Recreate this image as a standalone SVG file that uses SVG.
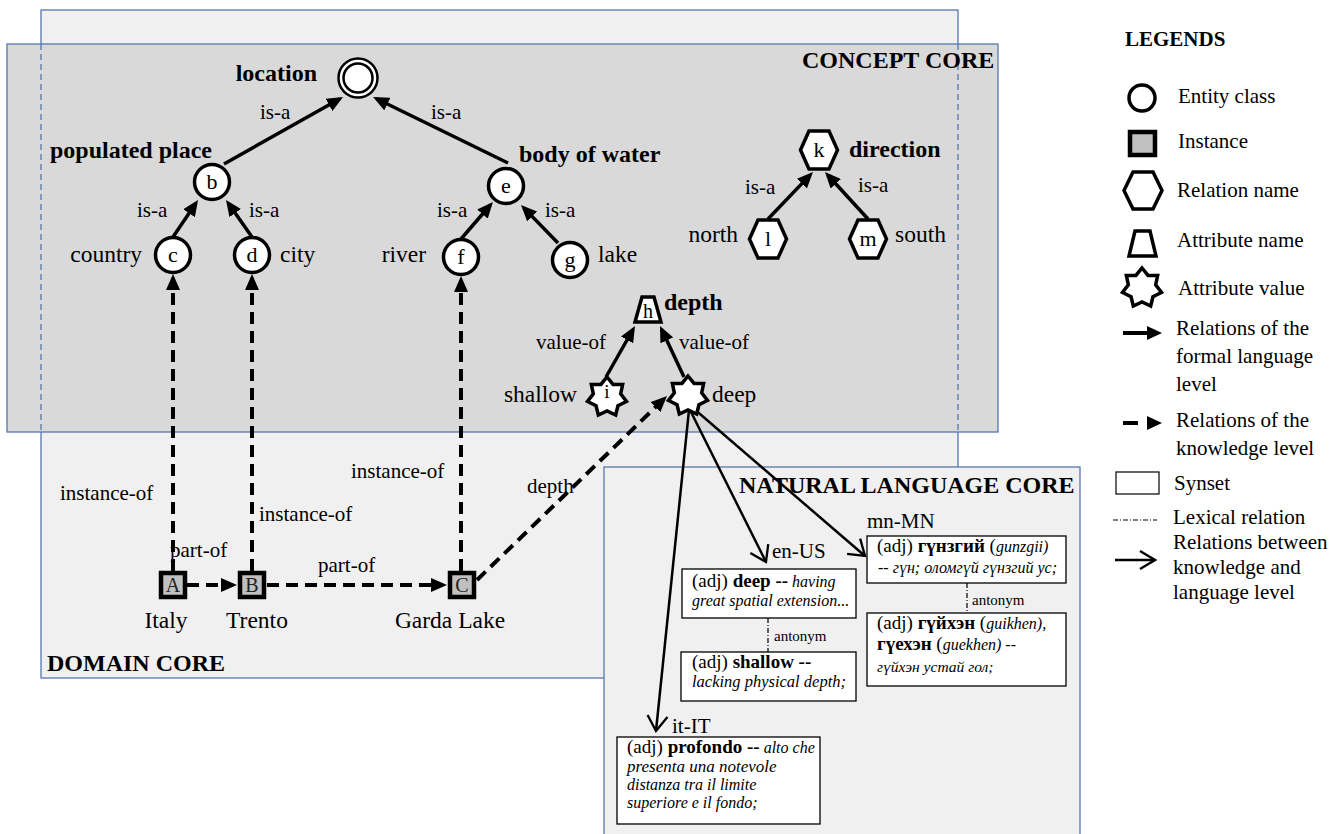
<svg xmlns="http://www.w3.org/2000/svg" width="1338" height="834" viewBox="0 0 1338 834">
<style>
text{font-family:"Liberation Serif","Times New Roman",serif;fill:#000}
.panel{stroke:#5677ad;stroke-width:1.3}
.pdash{stroke:#5677ad;stroke-width:1.3;stroke-dasharray:6 4;fill:none}
.b24{font-size:24px;font-weight:bold}
.lb{font-size:23.5px}
.el{font-size:21px}
.ln{font-size:22px;text-anchor:middle}
.ent{fill:#fff;stroke:#000;stroke-width:3.5}
.inst{fill:#c0c0c0;stroke:#000;stroke-width:4.5}
.solid{stroke:#000;stroke-width:3.5;fill:none;marker-end:url(#fa)}
.dash{stroke:#000;stroke-width:4;stroke-dasharray:12 7;fill:none;marker-end:url(#fa)}
.kl{stroke:#000;stroke-width:2.5;fill:none;marker-end:url(#va)}
.lex{stroke:#000;stroke-width:1.2;stroke-dasharray:5 2 1 2;fill:none}
.syn{fill:#fff;stroke:#000;stroke-width:1.3}
.st{font-size:19px}
.it{font-style:italic;font-size:16px}
.bd{font-weight:bold}
.lg{font-size:21px}
.ant{font-size:15px}
</style>
<defs>
<marker id="fa" markerUnits="userSpaceOnUse" markerWidth="16" markerHeight="14" viewBox="0 0 16 14" refX="12" refY="7" orient="auto"><path d="M0,0 L16,7 L0,14 z" fill="#000"/></marker>
<marker id="va" markerUnits="userSpaceOnUse" markerWidth="18" markerHeight="22" viewBox="0 0 18 22" refX="16" refY="11" orient="auto" overflow="visible"><path d="M1,1 L16,11 L1,21" fill="none" stroke="#000" stroke-width="2.3"/></marker>
</defs>

<g id="panels">
<rect class="panel" x="41" y="10" width="917" height="668" fill="#f0f0f0"/>
<rect class="panel" x="7" y="44" width="991" height="388" fill="#d9d9d9"/>
<line class="pdash" x1="41" y1="44" x2="41" y2="432"/>
<line class="pdash" x1="958" y1="44" x2="958" y2="432"/>
<rect class="panel" x="604" y="467" width="476" height="380" fill="#f0f0f0"/>
<text class="b24" x="802" y="68">CONCEPT CORE</text>
<text class="b24" x="47" y="671">DOMAIN CORE</text>
<text class="b24" x="739" y="493">NATURAL LANGUAGE CORE</text>
</g>

<g id="connectors">
<line class="solid" x1="224" y1="164" x2="339.5" y2="99"/>
<line class="solid" x1="508" y1="163" x2="376.6" y2="98.8"/>
<line class="solid" x1="173" y1="237" x2="195.8" y2="203.3"/>
<line class="solid" x1="252" y1="237" x2="228.3" y2="203.3"/>
<line class="solid" x1="461" y1="239" x2="490.3" y2="205"/>
<line class="solid" x1="558" y1="243" x2="523.8" y2="207.9"/>
<line class="solid" x1="768" y1="219" x2="810.2" y2="174.9"/>
<line class="solid" x1="868" y1="219" x2="827.7" y2="175"/>
<line class="solid" x1="606" y1="377" x2="633" y2="329.5"/>
<line class="solid" x1="684" y1="377" x2="661.7" y2="329.6"/>
<line class="dash" x1="173" y1="571" x2="173" y2="278"/>
<line class="dash" x1="252" y1="571" x2="252" y2="278"/>
<line class="dash" x1="461" y1="571" x2="461" y2="280"/>
<line class="dash" x1="187" y1="585" x2="233" y2="585"/>
<line class="dash" x1="267" y1="585" x2="443" y2="585"/>
<line class="dash" x1="477" y1="580" x2="664.1" y2="398.8"/>
<line class="kl" x1="689" y1="410" x2="656" y2="731"/>
<line class="kl" x1="690" y1="410" x2="766" y2="562"/>
<line class="kl" x1="693" y1="408" x2="865" y2="556"/>
<line class="lex" x1="768" y1="618" x2="768" y2="652"/>
<line class="lex" x1="967" y1="583" x2="967" y2="613"/>
<text class="el" x="260" y="119">is-a</text>
<text class="el" x="431" y="119">is-a</text>
<text class="el" x="137" y="217">is-a</text>
<text class="el" x="249" y="217">is-a</text>
<text class="el" x="437" y="217">is-a</text>
<text class="el" x="545" y="217">is-a</text>
<text class="el" x="745" y="194">is-a</text>
<text class="el" x="858" y="192">is-a</text>
<text class="el" x="536" y="349">value-of</text>
<text class="el" x="679" y="349">value-of</text>
<text class="el" x="60" y="500">instance-of</text>
<text class="el" x="259" y="521">instance-of</text>
<text class="el" x="351" y="478">instance-of</text>
<text class="el" x="170" y="557">part-of</text>
<text class="el" x="318" y="572">part-of</text>
<text class="el" x="527" y="493">depth</text>
<text class="ant" x="774" y="641">antonym</text>
<text class="ant" x="972" y="605">antonym</text>
</g>

<g id="node-location">
<circle cx="358" cy="78" r="19.5" fill="#fff" stroke="#000" stroke-width="2.5"/>
<circle cx="358" cy="78" r="14.5" fill="#fff" stroke="#000" stroke-width="2.5"/>
<text class="b24" x="317" y="81" text-anchor="end">location</text>
</g>
<g id="node-b">
<circle class="ent" cx="212" cy="182" r="17.5"/>
<text class="ln" x="212" y="189">b</text>
<text class="b24" x="50" y="158">populated place</text>
</g>
<g id="node-c">
<circle class="ent" cx="173" cy="255" r="17.5"/>
<text class="ln" x="173" y="262">c</text>
<text class="lb" x="142" y="262" text-anchor="end">country</text>
</g>
<g id="node-d">
<circle class="ent" cx="252" cy="255" r="17.5"/>
<text class="ln" x="252" y="262">d</text>
<text class="lb" x="280" y="262">city</text>
</g>
<g id="node-e">
<circle class="ent" cx="506" cy="186" r="17.5"/>
<text class="ln" x="506" y="193">e</text>
<text class="b24" x="519" y="162">body of water</text>
</g>
<g id="node-f">
<circle class="ent" cx="461" cy="257" r="17.5"/>
<text class="ln" x="461" y="264">f</text>
<text class="lb" x="426" y="262" text-anchor="end">river</text>
</g>
<g id="node-g">
<circle class="ent" cx="570" cy="260" r="17.5"/>
<text class="ln" x="570" y="267">g</text>
<text class="lb" x="598" y="262">lake</text>
</g>
<g id="node-k">
<polygon class="ent" points="800.5,150 809,131 829,131 837.5,150 829,169 809,169"/>
<text class="ln" x="819" y="157">k</text>
<text class="b24" x="849" y="157">direction</text>
</g>
<g id="node-l">
<polygon class="ent" points="749.5,239 758,220 778,220 786.5,239 778,258 758,258"/>
<text class="ln" x="768" y="246">l</text>
<text class="lb" x="738" y="242" text-anchor="end">north</text>
</g>
<g id="node-m">
<polygon class="ent" points="849.5,239 858,220 878,220 886.5,239 878,258 858,258"/>
<text class="ln" x="868" y="246">m</text>
<text class="lb" x="895" y="242">south</text>
</g>
<g id="node-h">
<polygon class="ent" points="642,297 654,297 661,322 635,322"/>
<text class="ln" x="648" y="318" style="font-size:20px">h</text>
<text class="b24" x="664" y="310">depth</text>
</g>
<g id="node-i">
<polygon class="ent" transform="translate(607,397)" points="0,-20 6.07,-12.61 15.64,-12.47 13.65,-3.12 19.5,4.45 10.95,8.73 8.68,18.02 0,14 -8.68,18.02 -10.95,8.73 -19.5,4.45 -13.65,-3.12 -15.64,-12.47 -6.07,-12.61"/>
<text class="ln" x="607" y="398" style="font-size:19px">i</text>
<text class="lb" x="577" y="402" text-anchor="end">shallow</text>
</g>
<g id="node-deep">
<polygon class="ent" transform="translate(688,396)" points="0,-20 6.07,-12.61 15.64,-12.47 13.65,-3.12 19.5,4.45 10.95,8.73 8.68,18.02 0,14 -8.68,18.02 -10.95,8.73 -19.5,4.45 -13.65,-3.12 -15.64,-12.47 -6.07,-12.61"/>
<text class="lb" x="712" y="402">deep</text>
</g>
<g id="node-A">
<rect class="inst" x="161" y="573" width="24" height="24"/>
<text x="173" y="592" style="font-size:20px;text-anchor:middle;fill:#222">A</text>
<text class="lb" x="166" y="628" text-anchor="middle">Italy</text>
</g>
<g id="node-B">
<rect class="inst" x="240" y="573" width="24" height="24"/>
<text x="252" y="592" style="font-size:20px;text-anchor:middle;fill:#222">B</text>
<text class="lb" x="257" y="628" text-anchor="middle">Trento</text>
</g>
<g id="node-C">
<rect class="inst" x="450" y="573" width="24" height="24"/>
<text x="462" y="592" style="font-size:20px;text-anchor:middle;fill:#222">C</text>
<text class="lb" x="450" y="628" text-anchor="middle">Garda Lake</text>
</g>

<g id="synset-en-deep">
<text class="el" x="772" y="558">en-US</text>
<rect class="syn" x="682" y="569" width="174" height="49"/>
<text class="st" x="692" y="587">(adj) <tspan class="bd">deep --</tspan><tspan class="it"> having</tspan></text>
<text class="it" x="692" y="606">great spatial extension...</text>
</g>
<g id="synset-en-shallow">
<rect class="syn" x="681" y="652" width="175" height="49"/>
<text class="st" x="692" y="668">(adj) <tspan class="bd">shallow --</tspan></text>
<text class="it" x="692" y="687" style="font-size:16.5px">lacking physical depth;</text>
</g>
<g id="synset-mn-deep">
<text class="el" x="867" y="528">mn-MN</text>
<rect class="syn" x="867" y="536" width="199" height="47"/>
<text class="st" x="877" y="552">(adj) <tspan class="bd">гүнзгий</tspan> (<tspan class="it">gunzgii)</tspan></text>
<text class="it" x="878" y="573">-- гүн; оломгүй гүнзгий ус;</text>
</g>
<g id="synset-mn-shallow">
<rect class="syn" x="867" y="613" width="199" height="73"/>
<text class="st" x="877" y="629">(adj) <tspan class="bd">гүйхэн</tspan> (<tspan class="it">guikhen),</tspan></text>
<text class="st" x="877" y="650"><tspan class="bd">гүехэн</tspan> (<tspan class="it">guekhen) --</tspan></text>
<text class="it" x="877" y="672" style="font-size:15.5px">гүйхэн устай гол;</text>
</g>
<g id="synset-it-deep">
<text class="el" x="672" y="733">it-IT</text>
<rect class="syn" x="617" y="737" width="203" height="87"/>
<text class="st" x="627" y="753">(adj) <tspan class="bd">profondo --</tspan><tspan class="it"> alto che</tspan></text>
<text class="it" x="627" y="772" style="font-size:17px">presenta una notevole</text>
<text class="it" x="627" y="790">distanza tra il limite</text>
<text class="it" x="627" y="808">superiore e il fondo;</text>
</g>

<g id="legend">
<text x="1125" y="46" style="font-size:21px;font-weight:bold">LEGENDS</text>
<circle cx="1142" cy="98" r="13" fill="#fff" stroke="#000" stroke-width="3.5"/>
<text class="lg" x="1178" y="103">Entity class</text>
<rect class="inst" x="1130" y="132" width="25" height="23"/>
<text class="lg" x="1178" y="148">Instance</text>
<polygon class="ent" points="1124,190.5 1133,172 1153,172 1162,190.5 1153,209 1133,209"/>
<text class="lg" x="1177" y="197">Relation name</text>
<polygon class="ent" points="1135,231 1150,231 1156,256 1129,256"/>
<text class="lg" x="1177" y="247">Attribute name</text>
<polygon class="ent" transform="translate(1142,288)" points="0,-20 6.07,-12.61 15.64,-12.47 13.65,-3.12 19.5,4.45 10.95,8.73 8.68,18.02 0,14 -8.68,18.02 -10.95,8.73 -19.5,4.45 -13.65,-3.12 -15.64,-12.47 -6.07,-12.61"/>
<text class="lg" x="1178" y="295">Attribute value</text>
<line x1="1123" y1="333" x2="1149" y2="333" stroke="#000" stroke-width="4"/>
<polygon points="1147,326 1162,333 1147,340" fill="#000"/>
<text class="lg" x="1176" y="335">Relations of the</text>
<text class="lg" x="1176" y="363">formal language</text>
<text class="lg" x="1176" y="391">level</text>
<line x1="1123" y1="423" x2="1138" y2="423" stroke="#000" stroke-width="4"/>
<polygon points="1147,416 1162,423 1147,430" fill="#000"/>
<text class="lg" x="1176" y="427">Relations of the</text>
<text class="lg" x="1176" y="455">knowledge level</text>
<rect x="1116" y="472" width="43" height="22" fill="#fff" stroke="#000" stroke-width="1.2"/>
<text class="lg" x="1174" y="490">Synset</text>
<line class="lex" x1="1113" y1="520" x2="1157" y2="520"/>
<text class="lg" x="1173" y="524">Lexical relation</text>
<line x1="1115" y1="560" x2="1153" y2="560" stroke="#000" stroke-width="2.5"/>
<path d="M1140,551 L1155,560 L1140,569" fill="none" stroke="#000" stroke-width="2.5"/>
<text class="lg" x="1173" y="549">Relations between</text>
<text class="lg" x="1173" y="574">knowledge and</text>
<text class="lg" x="1173" y="599">language level</text>
</g>
</svg>
